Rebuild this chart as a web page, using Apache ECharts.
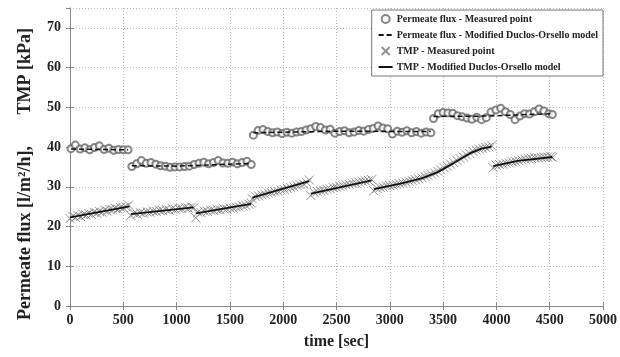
<!DOCTYPE html>
<html><head><meta charset="utf-8">
<script src="https://cdn.jsdelivr.net/npm/echarts@6/dist/echarts.min.js"></script>
<style>html,body{margin:0;padding:0;background:#fff}#c{width:620px;height:357px}</style>
</head><body><div id="c"></div>
<script>
var xTicks = [0,500,1000,1500,2000,2500,3000,3500,4000,4500,5000];
var yTicks = [0,10,20,30,40,50,60,70];
var seriesNames = ['Permeate flux - Measured point','Permeate flux - Modified Duclos-Orsello model','TMP - Measured point','TMP - Modified Duclos-Orsello model'];

var fluxMeasured = [
[10,39.6],[50,40.5],[95,39.5],[140,39.8],[185,39.3],[230,39.9],[275,40.3],[320,39.4],[365,39.7],[410,39.2],[455,39.4],[500,39.3],[545,39.3],
[580,35.1],[625,35.8],[670,36.6],[715,35.9],[760,36.1],[805,35.7],[850,35.3],[895,35.2],[940,34.9],[985,35.0],[1030,35.0],[1075,35.1],[1120,35.2],[1165,35.6],[1210,35.9],[1255,36.2],[1300,35.8],[1345,36.1],[1390,36.6],[1435,36.0],[1480,35.9],[1525,36.2],[1570,35.8],[1615,36.1],[1660,36.4],[1700,35.6],
[1720,43.0],[1765,44.2],[1810,44.4],[1855,43.9],[1900,43.6],[1945,43.8],[1990,43.4],[2035,43.7],[2080,43.5],[2125,43.8],[2170,43.9],[2215,44.3],[2260,44.6],[2305,45.2],[2350,44.9],[2395,44.3],[2440,44.5],[2485,43.5],[2530,43.9],[2575,44.1],[2620,43.6],[2665,43.8],[2710,44.2],[2755,44.0],[2800,44.4],[2845,44.7],[2890,45.3],[2935,44.8],[2980,44.6],[3025,43.3],[3070,44.0],[3115,43.7],[3160,44.1],[3205,43.6],[3250,43.9],[3295,43.5],[3340,43.8],[3385,43.6],
[3410,47.2],[3455,48.4],[3500,48.7],[3545,48.6],[3590,48.5],[3635,47.9],[3680,47.6],[3725,47.3],[3770,47.0],[3815,47.5],[3860,46.9],[3905,47.4],[3950,48.8],[3995,49.3],[4040,49.8],[4085,48.9],[4130,48.2],[4175,46.9],[4220,47.8],[4265,48.4],[4310,48.3],[4355,48.9],[4400,49.6],[4445,49.1],[4490,48.4],[4525,48.2]
];

var fluxModel = [
[10,39.5],[545,39.3],[560,'-'],
[580,35.3],[1000,35.2],[1700,35.9],[1710,'-'],
[1720,43.6],[2500,44.0],[3385,43.9],[3400,'-'],
[3410,47.7],[3900,47.8],[4525,48.4]
];

var tmpMeasured = [
[0,22.0],[25,22.6],[50,22.3],[75,22.8],[100,22.5],[125,23.0],[150,22.9],[175,23.3],[200,23.1],[225,23.6],[250,23.4],[275,23.8],[300,23.6],[325,24.1],[350,23.9],[375,24.3],[400,24.2],[425,24.6],[450,24.4],[475,24.8],[500,24.7],[525,25.0],[550,25.4],
[570,22.8],[600,23.3],[630,23.1],[660,23.5],[690,23.4],[720,23.7],[750,23.6],[780,23.9],[810,23.8],[840,24.1],[870,24.0],[900,24.3],[930,24.1],[960,24.5],[990,24.3],[1020,24.6],[1050,24.5],[1080,24.8],[1110,24.6],[1140,24.9],[1160,24.7],
[1180,22.2],[1200,23.6],[1230,23.5],[1260,23.9],[1290,23.8],[1320,24.1],[1350,24.0],[1380,24.3],[1410,24.2],[1440,24.5],[1470,24.4],[1500,24.7],[1530,24.6],[1560,24.9],[1590,24.9],[1620,25.2],[1650,25.3],[1680,25.6],[1700,25.9],
[1710,27.0],[1740,27.6],[1770,27.7],[1800,28.0],[1830,28.1],[1860,28.4],[1890,28.5],[1920,28.8],[1950,28.9],[1980,29.2],[2010,29.3],[2040,29.6],[2070,29.8],[2100,30.0],[2130,30.3],[2160,30.5],[2190,30.7],[2220,31.1],[2245,31.7],
[2260,27.8],[2290,28.6],[2320,28.8],[2350,29.0],[2380,29.1],[2410,29.4],[2440,29.5],[2470,29.8],[2500,29.9],[2530,30.1],[2560,30.3],[2590,30.5],[2620,30.6],[2650,30.9],[2680,31.0],[2710,31.2],[2740,31.4],[2770,31.5],[2800,31.6],[2830,31.8],
[2850,29.0],[2880,29.6],[2910,29.8],[2940,29.9],[2970,30.2],[3000,30.3],[3030,30.4],[3060,30.6],[3090,30.8],[3120,31.0],[3150,31.2],[3180,31.4],[3210,31.6],[3240,31.8],[3270,32.0],[3300,32.3],[3330,32.6],[3360,32.8],[3390,33.2],[3420,33.5],[3450,33.9],[3480,34.3],[3510,34.8],[3540,35.2],[3570,35.7],[3600,36.1],[3630,36.6],[3660,37.1],[3690,37.5],[3720,38.0],[3750,38.4],[3780,38.9],[3810,39.2],[3840,39.5],[3870,39.7],[3900,39.9],[3930,40.0],[3955,40.3],
[3970,34.8],[4000,35.4],[4030,35.6],[4060,35.7],[4090,35.9],[4120,36.0],[4150,36.3],[4180,36.4],[4210,36.6],[4240,36.8],[4270,36.9],[4300,37.1],[4330,37.1],[4360,37.3],[4390,37.3],[4420,37.4],[4450,37.5],[4480,37.5],[4510,37.6],[4525,37.4]
];

var tmpModel = [
[0,22.3],[560,25.1],[565,'-'],
[570,23.1],[1160,24.8],[1170,'-'],
[1180,23.3],[1700,25.7],[1705,'-'],
[1710,27.3],[2245,31.4],[2252,'-'],
[2260,28.3],[2830,31.6],[2840,'-'],
[2850,29.4],[3100,30.8],[3300,32.1],[3450,33.7],[3600,36.0],[3750,38.4],[3860,39.6],[3955,40.1],[3962,'-'],
[3970,35.2],[4200,36.5],[4525,37.5]
];

var FONT = '"Liberation Serif","DejaVu Serif",serif';
var chart = echarts.init(document.getElementById('c'), null, {renderer:'canvas'});
var crossPath = 'path://M0,0L10,10M10,0L0,10';
var gridLine = {show:true, lineStyle:{color:'#bbb', type:[1,2], width:1}};
var axLine = {show:true, lineStyle:{color:'#888', width:1}};
var tick = {show:true, inside:true, length:4, lineStyle:{color:'#888'}};
var lbl = {fontFamily:FONT, fontWeight:'bold', fontSize:14, color:'#222'};
var hidden = {color:'rgba(0,0,0,0)', borderColor:'rgba(0,0,0,0)', borderWidth:0};

chart.setOption({
  animation:false,
  backgroundColor:'#fff',
  grid:{left:70, right:16, top:8, bottom:51, show:false},
  legend:{
    data:[
      {name:seriesNames[0]},
      {name:seriesNames[1], itemStyle:hidden},
      {name:seriesNames[2]},
      {name:seriesNames[3], itemStyle:hidden}
    ],
    orient:'vertical', right:17, top:10,
    backgroundColor:'#fff', borderColor:'#777', borderWidth:1,
    padding:[4,5,4,6], itemGap:6, itemWidth:14, itemHeight:8,
    textStyle:{fontFamily:FONT, fontWeight:'bold', fontSize:10, color:'#222', padding:[0,0,0,-1]}
  },
  xAxis:[{
    type:'value', min:0, max:5000, interval:500,
    name:'time [sec]', nameLocation:'middle', nameGap:28,
    nameTextStyle:{fontFamily:FONT, fontWeight:'bold', fontSize:16, color:'#222'},
    axisLine:axLine, axisTick:tick, splitLine:gridLine,
    axisLabel:Object.assign({margin:7, formatter:function(v){return String(v);}}, lbl)
  },{
    type:'value', min:0, max:5000, interval:500, position:'top',
    axisLine:axLine, axisTick:tick, splitLine:{show:false}, axisLabel:{show:false}
  }],
  yAxis:[{
    type:'value', min:0, max:75, interval:10,
    name:'Permeate flux [l/m²/h],       TMP [kPa]', nameLocation:'middle', nameGap:36,
    nameTextStyle:{fontFamily:FONT, fontWeight:'bold', fontSize:18, color:'#222', padding:[0,34,0,0]},
    axisLine:axLine, axisTick:tick, splitLine:gridLine,
    axisLabel:Object.assign({margin:9, showMaxLabel:false}, lbl)
  },{
    type:'value', min:0, max:75, interval:10, position:'right',
    axisLine:axLine, axisTick:tick, splitLine:{show:false}, axisLabel:{show:false}
  }],
  series:[
    {name:seriesNames[0], type:'scatter', data:fluxMeasured, symbol:'emptyCircle', symbolSize:7,
     itemStyle:{color:'#666', borderColor:'#666', borderWidth:0.8}, z:3},
    {name:seriesNames[1], type:'line', data:fluxModel, showSymbol:false, symbol:'none',
     lineStyle:{color:'#111', width:1.5, type:[5,3]}, itemStyle:{color:'#111'}, z:4},
    {name:seriesNames[2], type:'scatter', data:tmpMeasured, symbol:crossPath, symbolSize:9,
     itemStyle:{color:'#888', borderColor:'#777', borderWidth:1}, z:3},
    {name:seriesNames[3], type:'line', data:tmpModel, showSymbol:false, symbol:'none',
     lineStyle:{color:'#111', width:1.8}, itemStyle:{color:'#111'}, z:4}
  ]
});
</script>
</body></html>
